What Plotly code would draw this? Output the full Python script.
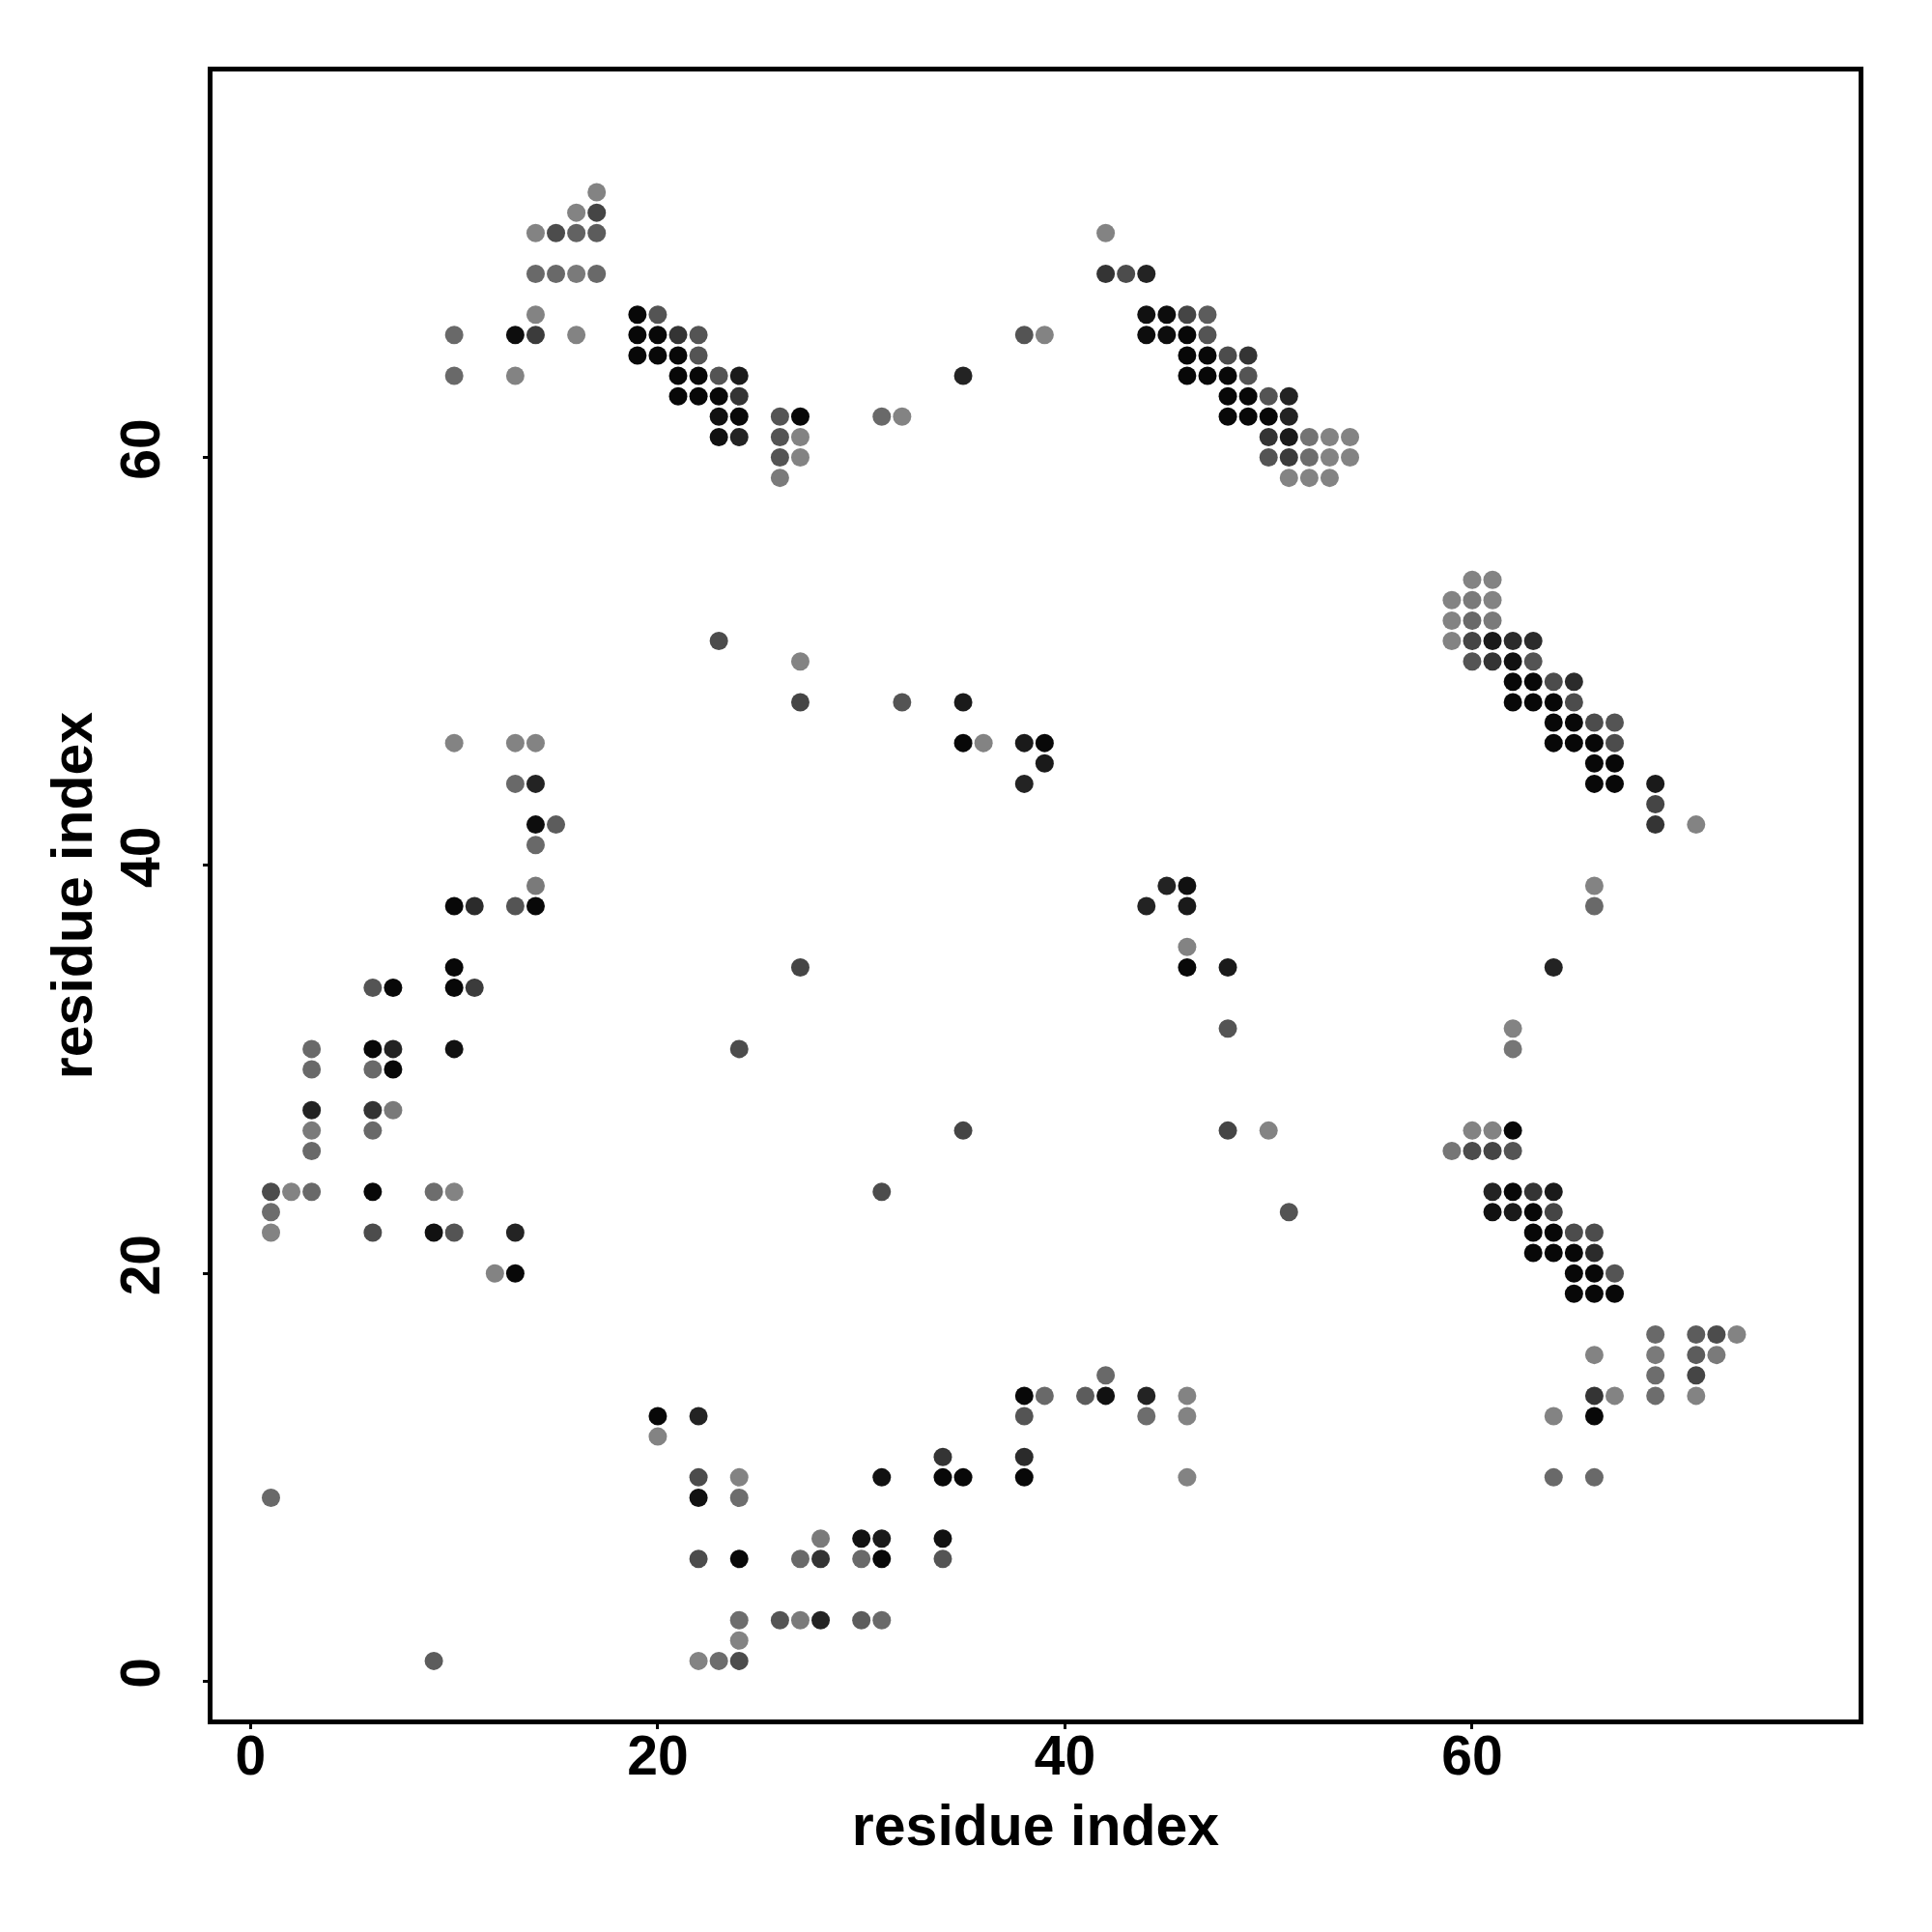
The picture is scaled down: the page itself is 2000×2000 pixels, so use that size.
import plotly.graph_objects as go

# Contact map: residue i (x), residue j (y), contact strength (1 = black, 0 = grey)
res_i = [
    17,
    16, 17,
    14, 15, 16, 17,
    14, 15, 16, 17,
    14,
    10, 13, 14, 16,
    10, 13,
    # cluster 19-39
    19, 20,
    19, 20, 21, 22,
    19, 20, 21, 22,
    21, 22, 23, 24,
    21, 22, 23, 24,
    23, 24, 26, 27,
    23, 24, 26, 27,
    26, 27,
    26,
    31, 32,
    35,
    38, 39,
    # cluster 42-54
    42,
    42, 43, 44,
    44, 45, 46, 47,
    44, 45, 46, 47,
    46, 47, 48, 49,
    46, 47, 48, 49,
    48, 49, 50, 51,
    48, 49, 50, 51,
    50, 51, 52, 53, 54,
    50, 51, 52, 53, 54,
    51, 52, 53,
    # cluster 59-71 upper
    60, 61,
    59, 60, 61,
    59, 60, 61,
    59, 60, 61, 62, 63,
    60, 61, 62, 63,
    62, 63, 64, 65,
    62, 63, 64, 65,
    64, 65, 66, 67,
    64, 65, 66, 67,
    66, 67,
    66, 67,
    69, 69, 69, 71,
    # left middle
    10, 13, 14,
    13, 14,
    14, 15,
    14,
    14,
    10, 11, 13, 14,
    10,
    6, 7, 10, 11,
    3, 6, 7, 10,
    3, 6, 7,
    3, 6, 7,
    3, 6,
    3,
    1, 2, 3, 6, 9, 10,
    1,
    1, 6, 9, 10, 13,
    12, 13,
    # middle
    23,
    27,
    27, 32, 35,
    35, 36, 38, 39,
    39,
    38,
    27,
    24,
    35,
    31,
    # right middle
    45, 46,
    44, 46,
    46,
    46, 48,
    48,
    48, 50,
    51,
    66, 66,
    64,
    62, 62,
    # lower right
    60, 61, 62,
    59, 60, 61, 62,
    61, 62, 63, 64,
    61, 62, 63, 64,
    63, 64, 65, 66,
    63, 64, 65, 66,
    65, 66, 67,
    65, 66, 67,
    69, 71, 72, 73,
    66, 69, 71, 72,
    69, 71,
    66, 67, 69, 71,
    64, 66,
    64, 66,
    # bottom left
    1,
    9,
    20, 22,
    20,
    22, 24,
    22, 24,
    28,
    22, 24, 27, 28,
    24, 26, 27, 28,
    24,
    22, 23, 24,
    # bottom middle
    42,
    38, 39, 41, 42, 44, 46,
    38, 44, 46,
    34, 38,
    31, 34, 35, 38, 46,
    30, 31, 34,
    30, 31, 34,
    30, 31,
]

res_j = [
    73,
    72, 72,
    71, 71, 71, 71,
    69, 69, 69, 69,
    67,
    66, 66, 66, 66,
    64, 64,
    # cluster 19-39
    67, 67,
    66, 66, 66, 66,
    65, 65, 65, 65,
    64, 64, 64, 64,
    63, 63, 63, 63,
    62, 62, 62, 62,
    61, 61, 61, 61,
    60, 60,
    59,
    62, 62,
    64,
    66, 66,
    # cluster 42-54
    71,
    69, 69, 69,
    67, 67, 67, 67,
    66, 66, 66, 66,
    65, 65, 65, 65,
    64, 64, 64, 64,
    63, 63, 63, 63,
    62, 62, 62, 62,
    61, 61, 61, 61, 61,
    60, 60, 60, 60, 60,
    59, 59, 59,
    # cluster 59-71 upper
    54, 54,
    53, 53, 53,
    52, 52, 52,
    51, 51, 51, 51, 51,
    50, 50, 50, 50,
    49, 49, 49, 49,
    48, 48, 48, 48,
    47, 47, 47, 47,
    46, 46, 46, 46,
    45, 45,
    44, 44,
    44, 43, 42, 42,
    # left middle
    46, 46, 46,
    44, 44,
    42, 42,
    41,
    39,
    38, 38, 38, 38,
    35,
    34, 34, 34, 34,
    31, 31, 31, 31,
    30, 30, 30,
    28, 28, 28,
    27, 27,
    26,
    24, 24, 24, 24, 24, 24,
    23,
    22, 22, 22, 22, 22,
    20, 20,
    # middle
    51,
    50,
    48, 48, 48,
    46, 46, 46, 46,
    45,
    44,
    35,
    31,
    27,
    24,
    # right middle
    39, 39,
    38, 38,
    36,
    35, 35,
    32,
    27, 27,
    23,
    39, 38,
    35,
    32, 31,
    # lower right
    27, 27, 27,
    26, 26, 26, 26,
    24, 24, 24, 24,
    23, 23, 23, 23,
    22, 22, 22, 22,
    21, 21, 21, 21,
    20, 20, 20,
    19, 19, 19,
    17, 17, 17, 17,
    16, 16, 16, 16,
    15, 15,
    14, 14, 14, 14,
    13, 13,
    10, 10,
    # bottom left
    9,
    1,
    13, 13,
    12,
    10, 10,
    9, 9,
    7,
    6, 6, 6, 6,
    3, 3, 3, 3,
    2,
    1, 1, 1,
    # bottom middle
    15,
    14, 14, 14, 14, 14, 14,
    13, 13, 13,
    11, 11,
    10, 10, 10, 10, 10,
    7, 7, 7,
    6, 6, 6,
    3, 3,
]

strength = [
    0.0,
    0.0, 0.47,
    0.0, 0.42, 0.25, 0.3,
    0.2, 0.2, 0.07, 0.2,
    0.0,
    0.2, 0.9, 0.55, 0.0,
    0.2, 0.0,
    # cluster 19-39
    0.94, 0.36,
    0.94, 0.94, 0.6, 0.36,
    0.94, 0.94, 0.94, 0.36,
    0.94, 0.94, 0.36, 0.8,
    0.94, 0.94, 0.94, 0.6,
    0.87, 0.94, 0.36, 0.94,
    0.87, 0.73, 0.36, 0.0,
    0.36, 0.0,
    0.07,
    0.2, 0.0,
    0.73,
    0.36, 0.0,
    # cluster 42-54
    0.0,
    0.6, 0.42, 0.73,
    0.87, 0.9, 0.47, 0.3,
    0.9, 0.9, 0.94, 0.36,
    0.94, 0.94, 0.42, 0.6,
    0.94, 0.94, 0.94, 0.36,
    0.94, 0.94, 0.36, 0.73,
    0.94, 0.94, 0.94, 0.73,
    0.6, 0.8, 0.12, 0.0, 0.0,
    0.36, 0.55, 0.17, 0.0, 0.0,
    0.0, 0.0, 0.0,
    # cluster 59-71 upper
    0.0, 0.0,
    0.0, 0.07, 0.0,
    0.0, 0.2, 0.07,
    0.0, 0.47, 0.8, 0.67, 0.67,
    0.36, 0.6, 0.87, 0.36,
    0.94, 0.94, 0.42, 0.67,
    0.94, 0.94, 0.94, 0.42,
    0.94, 0.94, 0.42, 0.36,
    0.94, 0.94, 0.94, 0.42,
    0.94, 0.94,
    0.94, 0.94,
    0.8, 0.47, 0.6, 0.0,
    # left middle
    0.0, 0.0, 0.0,
    0.2, 0.73,
    0.9, 0.3,
    0.2,
    0.07,
    0.94, 0.67, 0.36, 0.94,
    0.94,
    0.36, 0.94, 0.94, 0.55,
    0.2, 0.94, 0.73, 0.87,
    0.2, 0.2, 0.94,
    0.73, 0.6, 0.07,
    0.07, 0.2,
    0.2,
    0.42, 0.0, 0.2, 0.94, 0.17, 0.0,
    0.17,
    0.0, 0.42, 0.87, 0.36, 0.73,
    0.0, 0.94,
    # middle
    0.42,
    0.0,
    0.47, 0.36, 0.8,
    0.94, 0.0, 0.8, 0.94,
    0.8,
    0.73,
    0.47,
    0.42,
    0.47,
    0.42,
    # right middle
    0.73, 0.87,
    0.73, 0.8,
    0.0,
    0.94, 0.8,
    0.36,
    0.47, 0.0,
    0.36,
    0.0, 0.2,
    0.73,
    0.0, 0.1,
    # lower right
    0.0, 0.0, 0.94,
    0.1, 0.42, 0.47, 0.36,
    0.73, 0.94, 0.6, 0.8,
    0.87, 0.8, 0.94, 0.47,
    0.94, 0.94, 0.42, 0.42,
    0.94, 0.94, 0.94, 0.67,
    0.94, 0.94, 0.36,
    0.94, 0.94, 0.94,
    0.2, 0.3, 0.42, 0.0,
    0.0, 0.07, 0.3, 0.07,
    0.17, 0.47,
    0.6, 0.0, 0.17, 0.0,
    0.0, 0.94,
    0.2, 0.2,
    # bottom left
    0.2,
    0.3,
    0.94, 0.73,
    0.0,
    0.42, 0.0,
    0.87, 0.17,
    0.07,
    0.42, 0.94, 0.2, 0.6,
    0.17, 0.36, 0.07, 0.73,
    0.0,
    0.0, 0.17, 0.42,
    # bottom middle
    0.2,
    0.94, 0.2, 0.3, 0.87, 0.73, 0.0,
    0.36, 0.17, 0.0,
    0.6, 0.67,
    0.87, 0.94, 0.94, 0.94, 0.0,
    0.87, 0.8, 0.87,
    0.2, 0.94, 0.36,
    0.3, 0.2,
]

x_ticks = [0, 20, 40, 60]
y_ticks = [0, 20, 40, 60]
axis_title = "residue index"

assert len(res_i) == len(res_j) == len(strength), (len(res_i), len(res_j), len(strength))

font_family = "Liberation Sans, Arial, Helvetica, sans-serif"
tick_font = dict(family=font_family, size=57, color="black", weight="bold")
title_font = dict(family=font_family, size=59, color="black", weight="bold")

fig = go.Figure(
    go.Scatter(
        x=res_i,
        y=res_j,
        mode="markers",
        marker=dict(
            size=19,
            color=strength,
            colorscale=[[0, "#838383"], [1, "#000000"]],
            cmin=0,
            cmax=1,
            line=dict(width=0),
            showscale=False,
        ),
        hoverinfo="x+y",
    )
)

axis_common = dict(
    showgrid=False,
    zeroline=False,
    showline=True,
    linecolor="black",
    linewidth=5,
    mirror=True,
    ticks="outside",
    ticklen=5,
    tickwidth=3,
    tickcolor="black",
    tickmode="array",
    tickfont=tick_font,
)

fig.update_layout(
    width=2000,
    height=2000,
    paper_bgcolor="white",
    plot_bgcolor="white",
    margin=dict(l=211.5, r=83.5, t=65.5, b=227.5, autoexpand=False),
    showlegend=False,
    xaxis=dict(
        **axis_common,
        range=[-1.87, 78.98],
        tickvals=x_ticks,
        ticktext=[str(v) for v in x_ticks],
        ticklabelstandoff=-21,
        title=dict(text=axis_title, standoff=22, font=title_font),
    ),
    yaxis=dict(
        **axis_common,
        range=[-1.87, 78.92],
        tickvals=y_ticks,
        ticktext=[str(v) for v in y_ticks],
        tickangle=-90,
        ticklabelstandoff=22,
        title=dict(text=axis_title, standoff=0, font=title_font),
    ),
)

fig.write_html("out.html")
